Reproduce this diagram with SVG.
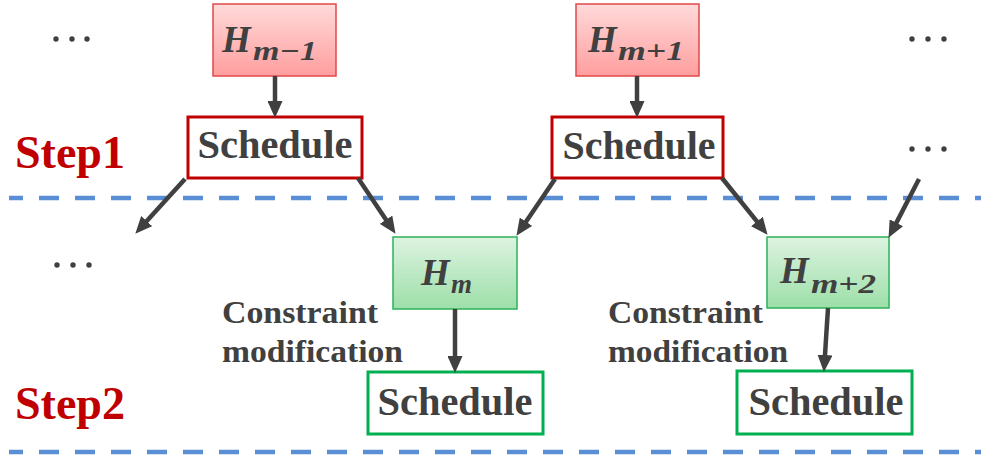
<svg xmlns="http://www.w3.org/2000/svg" width="981" height="460" viewBox="0 0 981 460">
<defs>
<linearGradient id="gRed" x1="0" y1="0" x2="0" y2="1"><stop offset="0" stop-color="#FFDADA"/><stop offset="1" stop-color="#FF9E9E"/></linearGradient>
<linearGradient id="gGreen" x1="0" y1="0" x2="0" y2="1"><stop offset="0" stop-color="#DDF3E0"/><stop offset="1" stop-color="#9DDFA9"/></linearGradient>
<marker id="ah" markerUnits="userSpaceOnUse" markerWidth="17" markerHeight="15" refX="6" refY="7.5" orient="auto"><path d="M0,0 L17,7.5 L0,15 z" fill="#404040"/></marker>
<style>
.hr{fill:url(#gRed);stroke:#E04848;stroke-width:1.5}
.hg{fill:url(#gGreen);stroke:#2DB35A;stroke-width:1.5}
.sr{fill:#fff;stroke:#C00000;stroke-width:3}
.sg{fill:#fff;stroke:#00B050;stroke-width:3}
text{font-family:'Liberation Serif','Times New Roman',Tinos,serif;font-weight:bold}
.sch{font-size:40px;fill:#404040;text-anchor:middle}
.math{font-style:italic;fill:#404040}
.H{font-size:37px}
.sub{font-size:27px}
.step{font-size:46px;fill:#C00000}
.note{font-size:32px;fill:#404040}
.dash{stroke:#5B8FD5;stroke-width:4.5;stroke-dasharray:20 16;stroke-dashoffset:6}
.arr{stroke:#404040;stroke-width:4.5;fill:none;marker-end:url(#ah)}
.dot{fill:#404040}
</style>
</defs>
<rect width="981" height="460" fill="#fff"/>
<g id="separators">
<line class="dash" x1="9" y1="198" x2="981" y2="198"/>
<line class="dash" x1="9" y1="452" x2="981" y2="452"/>
</g>
<g id="labels">
<text class="step" x="15" y="168" textLength="110" lengthAdjust="spacingAndGlyphs">Step1</text>
<text class="step" x="15" y="419" textLength="110" lengthAdjust="spacingAndGlyphs">Step2</text>
<text class="note" x="222" y="323" textLength="156" lengthAdjust="spacingAndGlyphs">Constraint</text>
<text class="note" x="222" y="362" textLength="181" lengthAdjust="spacingAndGlyphs">modification</text>
<text class="note" x="608" y="323" textLength="155" lengthAdjust="spacingAndGlyphs">Constraint</text>
<text class="note" x="608" y="362" textLength="180" lengthAdjust="spacingAndGlyphs">modification</text>
</g>
<g id="ellipses">
<circle class="dot" cx="56" cy="39" r="2.7"/><circle class="dot" cx="72" cy="39" r="2.7"/><circle class="dot" cx="87" cy="39" r="2.7"/>
<circle class="dot" cx="912" cy="39" r="2.7"/><circle class="dot" cx="928" cy="39" r="2.7"/><circle class="dot" cx="944" cy="39" r="2.7"/>
<circle class="dot" cx="912" cy="149" r="2.7"/><circle class="dot" cx="928" cy="149" r="2.7"/><circle class="dot" cx="944" cy="149" r="2.7"/>
<circle class="dot" cx="57" cy="265" r="2.7"/><circle class="dot" cx="73" cy="265" r="2.7"/><circle class="dot" cx="89" cy="265" r="2.7"/>
</g>
<g id="node-Hm-1">
<rect class="hr" x="213" y="4" width="123" height="72"/>
<text class="math" x="222" y="52"><tspan class="H">H</tspan><tspan class="sub" x="253" y="60" textLength="64" lengthAdjust="spacingAndGlyphs">m−1</tspan></text>
</g>
<g id="node-Hm+1">
<rect class="hr" x="576" y="4" width="123" height="72"/>
<text class="math" x="588" y="52"><tspan class="H">H</tspan><tspan class="sub" x="618" y="60" textLength="66" lengthAdjust="spacingAndGlyphs">m+1</tspan></text>
</g>
<g id="node-sched1">
<rect class="sr" x="188" y="117" width="174" height="61"/>
<text class="sch" x="275" y="158" textLength="155" lengthAdjust="spacingAndGlyphs">Schedule</text>
</g>
<g id="node-sched2">
<rect class="sr" x="552" y="117" width="171" height="61"/>
<text class="sch" x="639" y="159" textLength="153" lengthAdjust="spacingAndGlyphs">Schedule</text>
</g>
<g id="node-Hm">
<rect class="hg" x="393" y="237" width="124" height="72"/>
<text class="math" x="421" y="285"><tspan class="H">H</tspan><tspan class="sub" x="451" y="293">m</tspan></text>
</g>
<g id="node-Hm+2">
<rect class="hg" x="767" y="237" width="122" height="71"/>
<text class="math" x="780" y="283"><tspan class="H">H</tspan><tspan class="sub" x="811" y="293" textLength="65" lengthAdjust="spacingAndGlyphs">m+2</tspan></text>
</g>
<g id="node-sched3">
<rect class="sg" x="368" y="372" width="175" height="62"/>
<text class="sch" x="455" y="415" textLength="155" lengthAdjust="spacingAndGlyphs">Schedule</text>
</g>
<g id="node-sched4">
<rect class="sg" x="737" y="371" width="175" height="63"/>
<text class="sch" x="826" y="415" textLength="155" lengthAdjust="spacingAndGlyphs">Schedule</text>
</g>
<g id="connectors">
<line class="arr" x1="275" y1="76" x2="275" y2="107"/>
<line class="arr" x1="637" y1="76" x2="637" y2="107"/>
<line class="arr" x1="185" y1="179" x2="142.7" y2="225.6"/>
<line class="arr" x1="358" y1="178" x2="389.4" y2="224.7"/>
<line class="arr" x1="555" y1="179" x2="522.6" y2="226.7"/>
<line class="arr" x1="722" y1="178" x2="760.7" y2="226.2"/>
<line class="arr" x1="919" y1="179" x2="893.6" y2="228.1"/>
<line class="arr" x1="455" y1="309" x2="455" y2="362"/>
<line class="arr" x1="828" y1="308" x2="824.6" y2="361"/>
</g>
</svg>
